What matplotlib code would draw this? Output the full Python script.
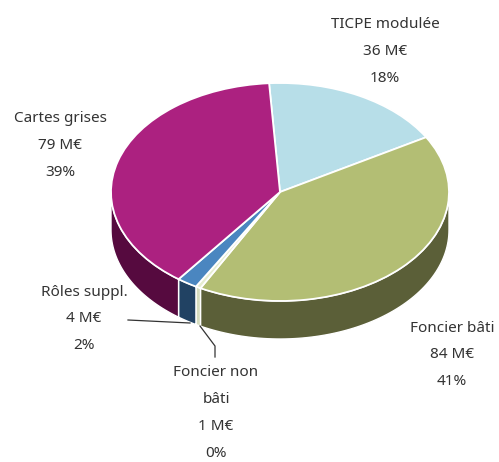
import numpy as np
import matplotlib
matplotlib.use("Agg")
import matplotlib.pyplot as plt
from matplotlib.lines import Line2D

W, H = 499, 462
CX, CY, RX, RY, DEPTH = 280, 192, 169, 109, 38
START_ANGLE = 93.7

labels = ["TICPE modulée", "Foncier bâti", "Foncier non bâti", "Rôles suppl.", "Cartes grises"]
values = [36, 84, 1, 4, 79]
percents = [18, 41, 0, 2, 39]
top_colors = ["#B7DEE8", "#B3BE74", "#E6EDD0", "#4A86C0", "#AC2180"]
side_colors = ["#7FA3AC", "#5B5F38", "#D5DCBE", "#214263", "#560A3F"]

plt.rcParams["font.family"] = ["Noto Sans", "DejaVu Sans"]

fig = plt.figure(figsize=(W / 100, H / 100), dpi=100)
ax = fig.add_axes([0, 0, 1, 1])

ax.pie(values, colors=top_colors, startangle=START_ANGLE, counterclock=False, radius=1,
       wedgeprops=dict(edgecolor="white", linewidth=1.3, zorder=3))
ax.set_aspect("auto")
ax.set_xlim((0 - CX) / RX, (W - CX) / RX)
ax.set_ylim((CY - H) / RY, CY / RY)
ax.set_axis_off()

# side wall, only the part of each slice that faces the viewer
drop = DEPTH / RY
edges = START_ANGLE - np.cumsum([0] + values) * 360.0 / sum(values)
for i in range(len(values)):
    lo, hi = max(edges[i + 1], -180), min(edges[i], 0)
    if lo >= hi:
        continue
    t = np.radians(np.linspace(lo, hi, 80))
    xs = np.concatenate([np.cos(t), np.cos(t)[::-1]])
    ys = np.concatenate([np.sin(t), np.sin(t)[::-1] - drop])
    ax.fill(xs, ys, facecolor=side_colors[i], edgecolor="white", linewidth=1.0, zorder=2)

# labels
def label(x, y, lines):
    for k, s in enumerate(lines):
        fig.text(x / W, 1 - (y + k * 26.7) / H, s, ha="center", va="center",
                 fontsize=11, color="#333333")

label(385, 25, [labels[0], "%d M€" % values[0], "%d%%" % percents[0]])
label(452, 328, [labels[1], "%d M€" % values[1], "%d%%" % percents[1]])
label(216, 373, ["Foncier non", "bâti", "%d M€" % values[2], "%d%%" % percents[2]])
label(84, 292, [labels[3], "%d M€" % values[3], "%d%%" % percents[3]])
label(60, 119, [labels[4], "%d M€" % values[4], "%d%%" % percents[4]])

# leader lines
for xs, ys in [([128, 190], [320, 323]), ([200, 215, 215], [326, 346, 357])]:
    fig.add_artist(Line2D([x / W for x in xs], [1 - y / H for y in ys], color="#333333", linewidth=0.9))

fig.savefig("out.png", dpi=100, facecolor="white")
